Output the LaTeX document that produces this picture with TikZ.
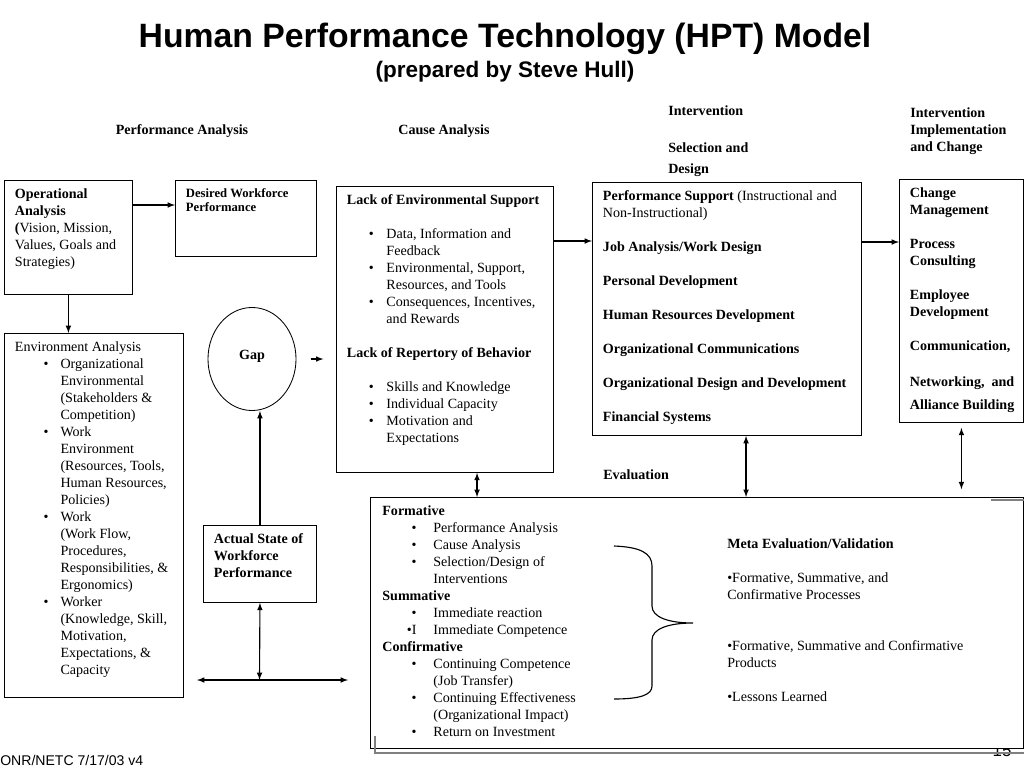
\documentclass[tikz,border=0pt]{standalone}
\usepackage{fontspec}
\setmainfont{Liberation Serif}
\newfontfamily\arialfont{Liberation Sans}
\usepackage{enumitem}
\usetikzlibrary{shapes.geometric}

\begin{document}
\begin{tikzpicture}[x=0.025cm, y=-0.025cm, >=latex]

\tikzstyle{box}=[rectangle, draw, semithick, anchor=north west, inner xsep=7.5pt, inner ysep=6pt, font=\fontsize{10}{12.1}\selectfont]
\tikzstyle{blob}=[ellipse, draw, semithick, minimum width=2.2cm, minimum height=2.575cm, inner sep=0pt, text height=6.8pt, text depth=6.5pt, font=\fontsize{10}{12.1}\selectfont\bfseries]
\tikzstyle{head}=[anchor=west, inner sep=0pt, align=left, font=\fontsize{10}{12.1}\selectfont\bfseries]
\tikzstyle{arrow}=[->, line width=0.8pt]
\tikzstyle{biarrow}=[<->, line width=0.8pt]

\useasboundingbox (0,0) rectangle (1024,768);

\node (T) [font={\fontsize{24}{28}\arialfont\bfseries}] at (505,39) {Human Performance Technology (HPT) Model};
\node (S) [font={\fontsize{16}{19}\arialfont\bfseries}] at (505,72) {(prepared by Steve Hull)};

\node (P) [head, anchor=center] at (182,131) {Performance Analysis};
\node (Q) [head, anchor=center] at (444,131) {Cause Analysis};
\node (R) [head, anchor=north west] at (668,105.5) {Intervention\\[14.2pt]Selection and\\[2.8pt]Design};
\node (W) [head, anchor=north west] at (910,107.5) {Intervention\\Implementation\\and Change};

\node (A) [box] at (4,180) {\begin{minipage}[c][69.1pt][t]{76pt}\raggedright
  \textbf{Operational\\Analysis}\\\textbf{(}Vision, Mission,\\Values, Goals and\\Strategies)
\end{minipage}};

\node (B) [box, font=\fontsize{9}{9.8}\selectfont] at (175,180) {\begin{minipage}[c][42.1pt][t]{85.3pt}\raggedright
  \textbf{Desired Workforce\\Performance}
\end{minipage}};

\node (C) [box] at (4,333) {\begin{minipage}[c][246.9pt][t]{112.3pt}\raggedright
  Environment Analysis
  \begin{itemize}[nosep, leftmargin=32.4pt, labelsep=8.5pt]
    \item Organizational\\Environmental\\(Stakeholders \&\\Competition)
    \item Work\\Environment\\(Resources, Tools,\\Human Resources,\\Policies)
    \item Work\\(Work Flow,\\Procedures,\\Responsibilities, \&\\Ergonomics)
    \item Worker\\(Knowledge, Skill,\\Motivation,\\Expectations, \&\\Capacity
  \end{itemize}
\end{minipage}};

\node (D) [blob] at (252,359) {Gap};

\node (E) [box] at (203,525) {\begin{minipage}[c][42.8pt][t]{65.4pt}\raggedright
  \textbf{Actual State of\\Workforce\\Performance}
\end{minipage}};

\node (F) [box] at (336,186) {\begin{minipage}[c][191.4pt][t]{139.4pt}\raggedright
  \textbf{Lack of Environmental Support}
  \begin{itemize}[nosep, topsep=12.1pt, leftmargin=28.1pt, labelsep=9pt]
    \item Data, Information and\\Feedback
    \item Environmental, Support,\\Resources, and Tools
    \item Consequences, Incentives,\\and Rewards
  \end{itemize}
  \textbf{Lack of Repertory of Behavior}
  \begin{itemize}[nosep, topsep=12.1pt, leftmargin=28.1pt, labelsep=9pt]
    \item Skills and Knowledge
    \item Individual Capacity
    \item Motivation and\\Expectations
  \end{itemize}
\end{minipage}};

\node (G) [box] at (592,182) {\begin{minipage}[c][168pt][t]{176.3pt}\raggedright
  \textbf{Performance Support} (Instructional and\\Non-Instructional)\\[12.1pt]
  \textbf{Job Analysis/Work Design}\\[12.1pt]
  \textbf{Personal Development}\\[12.1pt]
  \textbf{Human Resources Development}\\[12.1pt]
  \textbf{Organizational Communications}\\[12.1pt]
  \textbf{Organizational Design and Development}\\[12.1pt]
  \textbf{Financial Systems}
\end{minipage}};

\node (H) [box] at (899,179) {\begin{minipage}[c][160.9pt][t]{73.2pt}\raggedright\bfseries
  Change\\Management\\[12.1pt]Process\\Consulting\\[12.1pt]Employee\\Development\\[12.1pt]Communication,\\[13.5pt]\mbox{Networking,\ \ and}\\[4.3pt]\mbox{Alliance Building}
\end{minipage}};

\node (L) [head] at (603,475) {Evaluation};

\node (V) [inner sep=0pt, font={\fontsize{12}{14}\arialfont}] at (1002,751) {15};
\node (I) [box, fill=white, inner xsep=8.5pt] at (370,497) {\begin{minipage}[c][166.5pt][t]{447.5pt}\raggedright
  \textbf{Formative}
  \begin{itemize}[nosep, leftmargin=36.3pt, labelsep=12pt]
    \item Performance Analysis
    \item Cause Analysis
    \item Selection/Design of\\Interventions
  \end{itemize}
  \textbf{Summative}
  \begin{itemize}[nosep, leftmargin=36.3pt, labelsep=12pt]
    \item Immediate reaction
    \item[\textbullet I] Immediate Competence
  \end{itemize}
  \textbf{Confirmative}
  \begin{itemize}[nosep, leftmargin=36.3pt, labelsep=12pt]
    \item Continuing Competence\\(Job Transfer)
    \item Continuing Effectiveness\\(Organizational Impact)
    \item Return on Investment
  \end{itemize}
\end{minipage}};
\draw [gray, line width=1.2pt] ([xshift=0.125cm, yshift=0.325cm]I.south west) |- ([yshift=-0.1cm]I.south east);
\draw [gray, line width=1.2pt] ([xshift=-0.825cm, yshift=-0.075cm]I.north east) -- ([yshift=-0.075cm]I.north east);

\node (K) [anchor=north west, inner sep=0pt, align=left, font=\fontsize{10}{12.1}\selectfont] at (727,538.5) {\textbf{Meta Evaluation/Validation}\\[12.1pt]\textbullet Formative, Summative, and\\Confirmative Processes\\[24.2pt]\textbullet Formative, Summative and Confirmative\\Products\\[12.1pt]\textbullet Lessons Learned};

\node (U) [anchor=west, inner sep=0pt, font={\fontsize{10}{12}\arialfont}] at (0,760) {ONR/NETC 7/17/03 v4};

% brace
\draw [line width=0.8pt] (614,546) .. controls (640,547) and (652,553) .. (652,566) -- (652,606) .. controls (652,617) and (668,623) .. (693,623) .. controls (668,623) and (652,629) .. (652,640) -- (652,686) .. controls (652,695) and (640,699) .. (614,699);

\coordinate (J) at (259.5,680);
\coordinate (Jl) at (197,680);
\coordinate (Jr) at (348,680);

\draw [arrow] ([yshift=-0.625cm]A.north east) -- ([yshift=-0.625cm]A.north east -| B.west);
\draw [arrow] (A.south) -- (A.south |- C.north);
\draw [arrow] (E.north) -- (E.north |- D.south);
\draw [biarrow] (E.south) -- (J);
\draw [biarrow] (Jl) -- (Jr);
\draw [arrow, shorten <=10pt, shorten >=9pt] (D.east) -- (D.east -| F.west);
\draw [arrow] ([yshift=-1.375cm]F.north east) -- ([yshift=-1.375cm]F.north east -| G.west);
\draw [arrow] ([yshift=-1.5cm]G.north east) -- ([yshift=-1.5cm]G.north east -| H.west);
\draw [biarrow] ([xshift=3.525cm]F.south west) -- ([xshift=3.525cm]F.south west |- I.north);
\draw [biarrow] ([xshift=3.85cm]G.south west) -- ([xshift=3.85cm]G.south west |- I.north);
\draw [biarrow, shorten <=3.5pt, shorten >=5.5pt] (H.south) -- (H.south |- I.north);

\end{tikzpicture}
\end{document}
